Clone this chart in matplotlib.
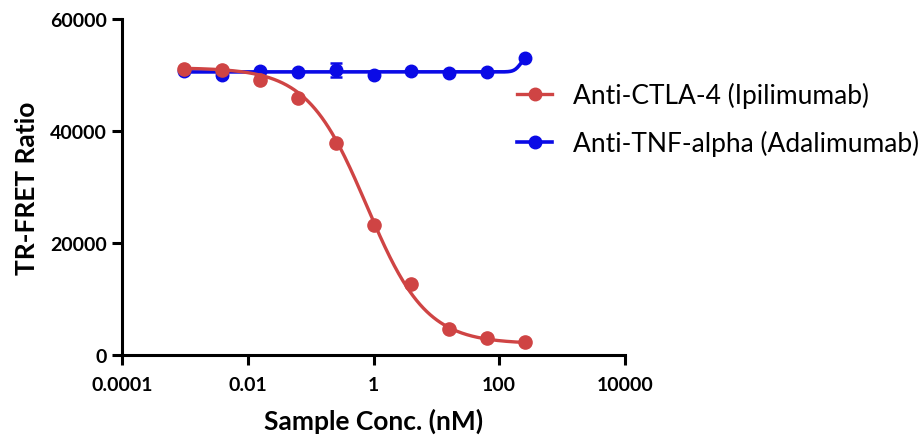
import numpy as np
import matplotlib
matplotlib.use("Agg")
import matplotlib.pyplot as plt
from matplotlib.lines import Line2D

# ---- data ----
conc = [0.00098, 0.0039, 0.0156, 0.0625, 0.25, 1.0, 4.0, 16.0, 64.0, 256.0]
ctla4 = [51070, 50950, 49100, 45840, 37800, 23270, 12680, 4640, 2970, 2380]
tnf = [50770, 50000, 50770, 50600, 50890, 50060, 50770, 50360, 50480, 53040]
tnf_err = [0, 300, 0, 0, 1200, 0, 0, 0, 0, 0]
labels = ["Anti-CTLA-4 (Ipilimumab)", "Anti-TNF-alpha (Adalimumab)"]
xticks = [1e-4, 1e-2, 1, 100, 1e4]
xtick_labels = ["0.0001", "0.01", "1", "100", "10000"]
yticks = [0, 20000, 40000, 60000]

# fitted 4PL curve parameters
ctla4_fit = dict(top=51300, bottom=2000, ec50=0.78, hill=0.92)
tnf_fit = dict(top=50550, bottom=53300, ec50=215.0, hill=9.0)

RED = "#CF4444"
BLUE = "#0A0AE6"

def fourpl(x, top, bottom, ec50, hill):
    return bottom + (top - bottom) / (1 + (x / ec50) ** hill)

plt.rcParams['font.family'] = ['Lato', 'DejaVu Sans']
fig = plt.figure(figsize=(9.21, 4.39), dpi=100)
ax = fig.add_axes([122/921, 1-356/439, (625-122)/921, (356-20)/439])

xs = np.logspace(np.log10(conc[0]), np.log10(conc[-1]), 400)
ax.plot(xs, fourpl(xs, **tnf_fit), color=BLUE, lw=2.6, zorder=3)
ax.errorbar(conc, tnf, yerr=tnf_err, fmt='o', color=BLUE, ms=9, capsize=4,
            elinewidth=1.8, capthick=1.8, zorder=4)
ax.plot(xs, fourpl(xs, **ctla4_fit), color=RED, lw=2.4, zorder=5)
ax.plot(conc, ctla4, 'o', color=RED, ms=9.5, zorder=6)

ax.set_xscale('log')
ax.set_xlim(1e-4, 1e4)
ax.set_ylim(0, 60000)
ax.set_xticks(xticks)
ax.set_xticklabels(xtick_labels)
ax.xaxis.set_minor_locator(matplotlib.ticker.NullLocator())
ax.set_yticks(yticks)
ax.set_yticklabels([str(v) for v in yticks])

for s in ['top', 'right']:
    ax.spines[s].set_visible(False)
for s in ['left', 'bottom']:
    ax.spines[s].set_linewidth(2.2)
ax.tick_params(width=2.2, length=7, labelsize=14)
ax.tick_params(axis='x', pad=8)
ax.tick_params(axis='y', pad=4)
for t in ax.get_xticklabels() + ax.get_yticklabels():
    t.set_fontweight('bold')

ax.set_xlabel("Sample Conc. (nM)", fontsize=19, fontweight='bold', labelpad=11)
ax.set_ylabel("TR-FRET Ratio", fontsize=19, fontweight='bold', labelpad=8)

handles = [Line2D([], [], color=RED, lw=2.4, marker='o', ms=9),
           Line2D([], [], color=BLUE, lw=2.6, marker='o', ms=9)]
fig.legend(handles, labels, loc='upper left', bbox_to_anchor=(517/921, 1-83/439),
           frameon=False, fontsize=19, handlelength=1.33, handletextpad=0.8,
           labelspacing=0.83, borderpad=0, borderaxespad=0)

fig.savefig("out.png", dpi=100)
